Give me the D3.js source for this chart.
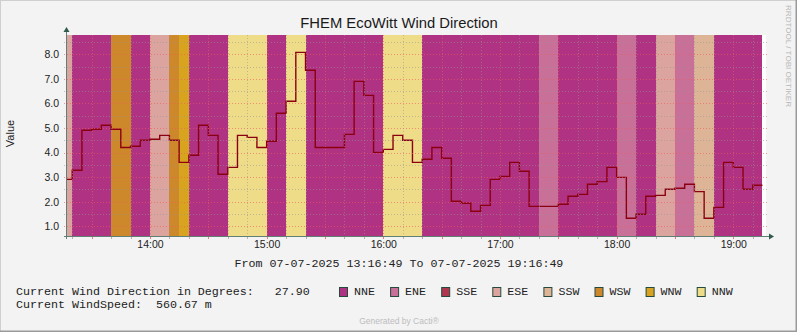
<!DOCTYPE html>
<html><head><meta charset="utf-8">
<script src="https://cdn.jsdelivr.net/npm/d3@7/dist/d3.min.js"></script>
<style>html,body{margin:0;padding:0;background:#f3f3f3;}svg{display:block;}</style>
</head><body>
<script>
const title = "FHEM EcoWitt Wind Direction";
const rangeStart = "2025-07-07T13:16:49Z";
const rangeEnd = "2025-07-07T19:16:49Z";
const firstStep = "2025-07-07T13:15:00Z";
const stepMinutes = 5;
const directions = ["NNE","ENE","SSE","ESE","SSW","WSW","WNW","NNW"];
const dirColors = ["#B03282","#C87098","#B0374E","#DCA49E","#DEB496","#CE882C","#D8A420","#EFDC88"];
const values = [2.91,3.28,4.91,4.95,5.11,4.95,4.21,4.26,4.50,4.54,4.70,4.50,3.60,3.89,5.11,4.70,3.12,3.40,4.70,4.62,4.21,4.46,5.60,6.09,8.08,7.35,4.21,4.21,4.21,4.74,6.90,6.33,4.01,4.13,4.70,4.50,3.60,3.73,4.21,3.77,2.02,1.94,1.61,1.85,2.91,3.03,3.60,3.24,1.81,1.81,1.81,1.90,2.22,2.30,2.71,2.82,3.40,2.99,1.33,1.49,2.22,2.26,2.51,2.55,2.71,2.41,1.33,1.77,3.60,3.40,2.51,2.67];
const stepDirections = ["ESE","NNE","NNE","NNE","NNE","WSW","WSW","NNE","NNE","ESE","ESE","WSW","WNW","NNE","NNE","NNE","NNE","NNW","NNW","NNW","NNW","NNE","NNE","NNW","NNW","NNE","NNE","NNE","NNE","NNE","NNE","NNE","NNE","NNW","NNW","NNW","NNW","NNE","NNE","NNE","NNE","NNE","NNE","NNE","NNE","NNE","NNE","NNE","NNE","ENE","ENE","NNE","NNE","NNE","NNE","NNE","NNE","ENE","ENE","NNE","NNE","ESE","ESE","ENE","ENE","SSW","SSW","NNE","NNE","NNE","NNE","NNE"];
const yTicks = [1,2,3,4,5,6,7,8];
const yDomain = [0.605, 8.786];
const legendLine1 = "Current Wind Direction in Degrees:   27.90";
const legendLine2 = "Current WindSpeed:  560.67 m";
const fromTo = "From 07-07-2025 13:16:49 To 07-07-2025 19:16:49";

const W = 797, H = 332;
const L = 66, R = 766, T = 35, B = 236;
const svg = d3.select("body").append("svg").attr("width", W).attr("height", H);
svg.append("rect").attr("width", W).attr("height", H).attr("fill", "#f3f3f3");
svg.append("path").attr("d", `M0,${H} L0,0 L${W},0`).attr("stroke", "#cfcfcf").attr("stroke-width", 2).attr("fill", "none");
svg.append("path").attr("d", `M${W},0 L${W},${H} L0,${H}`).attr("stroke", "#9a9a9a").attr("stroke-width", 3).attr("fill", "none");

const x = d3.scaleUtc().domain([new Date(rangeStart), new Date(rangeEnd)]).range([L, R]);
const y = d3.scaleLinear().domain(yDomain).range([B, T]);
const color = d3.scaleOrdinal().domain(directions).range(dirColors);

const t0 = new Date(firstStep);
const stepTimes = values.map((v, i) => d3.utcMinute.offset(t0, i * stepMinutes));
const endTime = d3.utcMinute.offset(t0, values.length * stepMinutes);

svg.append("defs").append("clipPath").attr("id", "clip")
  .append("rect").attr("x", L).attr("y", T).attr("width", R - L).attr("height", B - T);

svg.append("rect").attr("x", L).attr("y", T).attr("width", R - L).attr("height", B - T).attr("fill", "#ffffff");

const g = svg.append("g").attr("clip-path", "url(#clip)");
g.selectAll("rect.band").data(stepDirections).join("rect")
  .attr("class", "band")
  .attr("x", (d, i) => Math.round(x(stepTimes[i])))
  .attr("width", (d, i) => Math.round(x(i + 1 < stepTimes.length ? stepTimes[i + 1] : endTime)) - Math.round(x(stepTimes[i])))
  .attr("y", T).attr("height", B - T)
  .attr("fill", d => color(d));

// grid
const minorCol = "rgba(150,150,150,0.55)", majorCol = "rgba(240,90,90,0.6)";
const grid = svg.append("g").attr("shape-rendering", "crispEdges");
const minorY = d3.range(1, 18).map(i => 0.5 * i).filter(v => v > yDomain[0] && v < yDomain[1]);
minorY.forEach(v => {
  const major = Math.abs(v - Math.round(v)) < 1e-9;
  grid.append("line").attr("x1", L - 2).attr("x2", R + 2)
    .attr("y1", Math.round(y(v)) + 0.5).attr("y2", Math.round(y(v)) + 0.5)
    .attr("stroke", major ? majorCol : minorCol)
    .attr("stroke-dasharray", "1,2").attr("stroke-width", 1);
});
const minorX = d3.utcMinute.every(10).range(new Date(rangeStart), new Date(rangeEnd));
minorX.forEach(t => {
  const major = t.getUTCMinutes() % 30 === 0;
  const px = Math.round(x(t)) + 0.5;
  grid.append("line").attr("x1", px).attr("x2", px).attr("y1", T).attr("y2", B)
    .attr("stroke", major ? majorCol : minorCol)
    .attr("stroke-dasharray", "1,2").attr("stroke-width", 1);
  grid.append("line").attr("x1", px).attr("x2", px).attr("y1", B).attr("y2", B + 3)
    .attr("stroke", major ? "rgba(240,90,90,0.8)" : "rgba(150,150,150,0.7)").attr("stroke-width", 1);
});

// line
const pts = stepTimes.map((t, i) => [t, values[i]]);
pts.push([endTime, values[values.length - 1]]);
const line = d3.line().x(d => x(d[0])).y(d => y(d[1])).curve(d3.curveStepAfter);
g.append("path").datum(pts).attr("d", line).attr("fill", "none")
  .attr("stroke", "#8a0010").attr("stroke-width", 1.4);

// axes
const axisColor = "#5f7f77";
svg.append("line").attr("x1", L + 0.5).attr("x2", L + 0.5).attr("y1", B + 3).attr("y2", T - 4).attr("stroke", axisColor).attr("stroke-width", 1);
svg.append("path").attr("d", `M${L + 0.5 - 3},${T - 3} L${L + 0.5 + 3},${T - 3} L${L + 0.5},${T - 8} Z`).attr("fill", "#2f5a4c");
svg.append("line").attr("x1", L - 2).attr("x2", R + 6).attr("y1", B + 0.5).attr("y2", B + 0.5).attr("stroke", axisColor).attr("stroke-width", 1);
svg.append("path").attr("d", `M${R + 3},${B + 0.5 - 3} L${R + 3},${B + 0.5 + 3} L${R + 8},${B + 0.5} Z`).attr("fill", "#2f5a4c");

const labelFont = "'Liberation Sans', Arial, sans-serif";
const yAxis = d3.axisLeft(y).tickValues(yTicks).tickFormat(d3.format(".1f")).tickSize(0).tickPadding(7);
const ya = svg.append("g").attr("transform", `translate(${L},0)`).call(yAxis);
ya.select(".domain").remove();
ya.selectAll("text").attr("font-family", labelFont).attr("font-size", "10.5px").attr("fill", "#222");

const xAxis = d3.axisBottom(x).ticks(d3.utcHour.every(1)).tickFormat(d3.utcFormat("%H:%M")).tickSize(0).tickPadding(5);
const xa = svg.append("g").attr("transform", `translate(0,${B})`).call(xAxis);
xa.select(".domain").remove();
xa.selectAll("text").attr("font-family", labelFont).attr("font-size", "10.5px").attr("fill", "#222");

svg.append("text").attr("transform", "translate(14,133.5) rotate(-90)").attr("text-anchor", "middle")
  .attr("font-family", labelFont).attr("font-size", "11px").attr("fill", "#222").text("Value");

svg.append("text").attr("x", 399).attr("y", 28).attr("text-anchor", "middle")
  .attr("font-family", labelFont).attr("font-size", "14.8px").attr("fill", "#1a1a1a").text(title);

svg.append("text").attr("transform", "translate(786,5) rotate(90)").attr("text-anchor", "start")
  .attr("font-family", labelFont).attr("font-size", "8px").attr("fill", "#b8b8b8")
  .attr("textLength", 102).attr("lengthAdjust", "spacingAndGlyphs").text("RRDTOOL / TOBI OETIKER");

const mono = "'Liberation Mono', 'Courier New', monospace";
svg.append("text").attr("x", 399).attr("y", 266.5).attr("text-anchor", "middle")
  .attr("font-family", mono).attr("font-size", "11.67px").attr("fill", "#222")
  .style("white-space", "pre").text(fromTo);
svg.append("text").attr("x", 16).attr("y", 294.5).attr("font-family", mono).attr("font-size", "11.67px").attr("fill", "#222")
  .style("white-space", "pre").attr("xml:space", "preserve").text(legendLine1);
svg.append("text").attr("x", 16).attr("y", 308).attr("font-family", mono).attr("font-size", "11.67px").attr("fill", "#222")
  .style("white-space", "pre").attr("xml:space", "preserve").text(legendLine2);

const lg = svg.append("g");
directions.forEach((d, i) => {
  const lx = 339 + i * 51.1;
  lg.append("rect").attr("x", lx + 0.5).attr("y", 287.5).attr("width", 8).attr("height", 9)
    .attr("fill", color(d)).attr("stroke", "#244a3c").attr("stroke-width", 1);
  lg.append("text").attr("x", lx + 15).attr("y", 294.5).attr("font-family", mono).attr("font-size", "11.67px")
    .attr("fill", "#222").text(d);
});

svg.append("text").attr("x", 399).attr("y", 324).attr("text-anchor", "middle")
  .attr("font-family", labelFont).attr("font-size", "8.5px").attr("fill", "#bdbdbd").text("Generated by Cacti®");
</script>
</body></html>
